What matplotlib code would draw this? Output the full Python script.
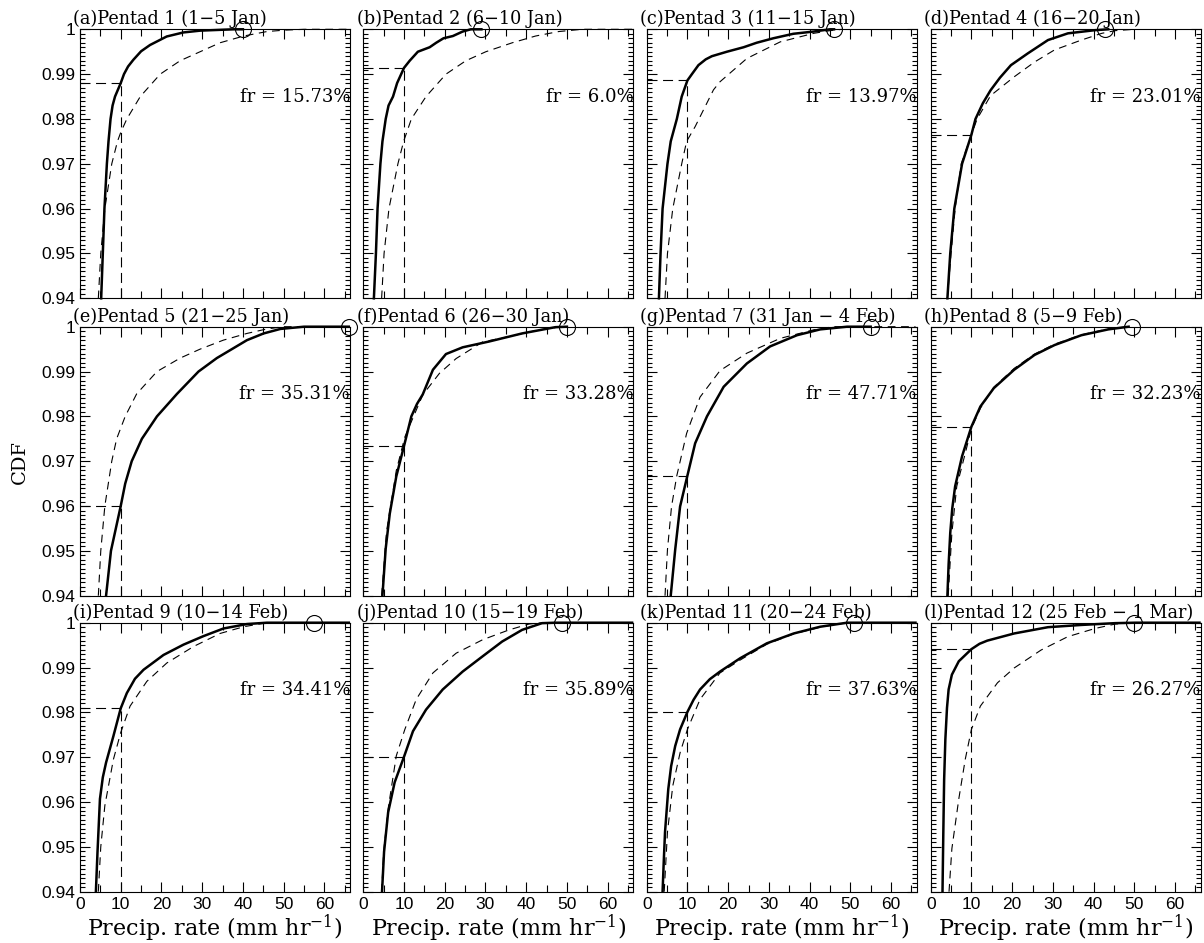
import matplotlib

matplotlib.use("Agg")
import matplotlib.pyplot as plt
from matplotlib.ticker import FixedLocator, MultipleLocator

plt.rcParams["mathtext.fontset"] = "dejavuserif"

SERIF = "DejaVu Serif"
SANS = "Liberation Sans"

titles = [
    "(a)Pentad 1 (1\u22125 Jan)",
    "(b)Pentad 2 (6\u221210 Jan)",
    "(c)Pentad 3 (11\u221215 Jan)",
    "(d)Pentad 4 (16\u221220 Jan)",
    "(e)Pentad 5 (21\u221225 Jan)",
    "(f)Pentad 6 (26\u221230 Jan)",
    "(g)Pentad 7 (31 Jan \u2212 4 Feb)",
    "(h)Pentad 8 (5\u22129 Feb)",
    "(i)Pentad 9 (10\u221214 Feb)",
    "(j)Pentad 10 (15\u221219 Feb)",
    "(k)Pentad 11 (20\u221224 Feb)",
    "(l)Pentad 12 (25 Feb \u2212 1 Mar)",
]
fr_values = ["15.73", "6.0", "13.97", "23.01", "35.31", "33.28",
             "47.71", "32.23", "34.41", "35.89", "37.63", "26.27"]

# largest observed rate per pentad (open circle)
max_rate = [40.0, 29.0, 46.0, 42.7, 66.0, 50.0, 55.0, 49.4, 57.5, 48.9, 50.8, 50.0]
# CDF of the pentad at 10 mm/hr
cdf_at_10 = [0.9880, 0.9914, 0.9886, 0.9765, 0.9600, 0.9734,
             0.9668, 0.9777, 0.9809, 0.9701, 0.9801, 0.9941]

# pentad CDF (solid)
obs_x = [
    [5.2, 5.6, 6.0, 6.6, 7.0, 7.5, 8.0, 8.6, 10.0, 10.8, 11.8, 13.1, 15.0, 17.2, 21.3, 25.4, 29.5, 37.7, 40.0],
    [2.6, 3.1, 3.5, 4.2, 4.7, 5.5, 6.2, 7.3, 8.3, 10.0, 11.4, 13.4, 16.3, 17.9, 19.7, 22.0, 24.4, 26.4, 29.0],
    [3.0, 3.4, 3.9, 5.1, 5.9, 7.4, 8.6, 10.0, 11.1, 12.7, 14.5, 16.0, 19.7, 23.8, 27.0, 31.1, 36.0, 41.0, 45.0, 46.0],
    [4.1, 4.8, 5.8, 7.7, 10.0, 11.0, 12.8, 14.7, 17.0, 19.7, 23.8, 28.8, 33.7, 40.3, 43.6],
    [6.4, 7.6, 8.8, 10.0, 11.1, 12.7, 15.2, 18.9, 23.8, 29.1, 33.6, 37.3, 41.0, 45.1, 49.2, 55.0, 66.0],
    [4.7, 5.5, 6.5, 8.1, 10.0, 11.8, 13.2, 14.6, 17.1, 20.3, 24.4, 30.9, 39.0, 47.2, 50.0],
    [5.9, 7.0, 8.2, 10.0, 11.9, 14.8, 18.9, 24.6, 30.3, 36.9, 42.6, 49.2, 55.0],
    [4.1, 4.4, 4.8, 5.3, 6.0, 7.7, 10.0, 12.2, 15.5, 20.5, 25.5, 30.4, 37.0, 43.6, 48.6],
    [3.9, 4.3, 4.9, 5.6, 6.4, 8.2, 10.0, 11.5, 13.5, 15.6, 20.5, 25.4, 30.3, 35.2, 41.0, 45.9, 66.0],
    [4.6, 5.1, 6.1, 7.7, 10.0, 12.2, 15.4, 19.5, 24.4, 29.3, 34.1, 39.0, 43.9, 47.2, 66.0],
    [3.9, 4.2, 4.5, 5.3, 6.0, 7.0, 8.2, 10.0, 11.5, 13.1, 15.5, 18.0, 23.0, 29.5, 36.1, 42.6, 49.2, 66.0],
    [2.9, 3.1, 3.3, 3.6, 4.0, 4.4, 5.2, 6.9, 10.0, 12.0, 13.9, 20.5, 28.8, 37.0, 45.3, 50.2, 66.0],
]
obs_y = [
    [0.94, 0.95, 0.96, 0.97, 0.975, 0.98, 0.983, 0.985, 0.988, 0.99, 0.9917, 0.9932, 0.9951, 0.9965, 0.9984, 0.9993, 0.9997, 1.0, 1.0],
    [0.94, 0.95, 0.96, 0.97, 0.975, 0.98, 0.983, 0.985, 0.988, 0.9914, 0.993, 0.995, 0.996, 0.997, 0.998, 0.9985, 0.9995, 1.0, 1.0],
    [0.94, 0.95, 0.96, 0.97, 0.975, 0.98, 0.985, 0.9886, 0.99, 0.992, 0.9933, 0.994, 0.995, 0.996, 0.997, 0.998, 0.999, 0.9995, 1.0, 1.0],
    [0.94, 0.95, 0.96, 0.97, 0.9765, 0.98, 0.9835, 0.9864, 0.9892, 0.992, 0.9946, 0.9976, 0.9991, 0.9998, 1.0],
    [0.94, 0.95, 0.955, 0.96, 0.965, 0.97, 0.975, 0.98, 0.985, 0.99, 0.993, 0.995, 0.997, 0.9985, 0.9995, 1.0, 1.0],
    [0.94, 0.9505, 0.9583, 0.9666, 0.9734, 0.98, 0.9828, 0.9849, 0.9904, 0.9939, 0.9954, 0.9967, 0.9985, 0.9999, 1.0],
    [0.94, 0.9503, 0.9599, 0.9668, 0.974, 0.98, 0.9866, 0.9918, 0.9956, 0.9981, 0.9994, 1.0, 1.0],
    [0.94, 0.947, 0.954, 0.9595, 0.9644, 0.9711, 0.9777, 0.9822, 0.9863, 0.9904, 0.9937, 0.9959, 0.9981, 0.9994, 1.0],
    [0.94, 0.9489, 0.9607, 0.9655, 0.9688, 0.9747, 0.9809, 0.9843, 0.9875, 0.9895, 0.9928, 0.9951, 0.997, 0.9987, 0.9997, 1.0, 1.0],
    [0.94, 0.9489, 0.9577, 0.9644, 0.9701, 0.9758, 0.9806, 0.9851, 0.9891, 0.9925, 0.9958, 0.9984, 0.9999, 1.0, 1.0],
    [0.94, 0.947, 0.9533, 0.9629, 0.968, 0.9725, 0.9762, 0.9801, 0.9828, 0.9851, 0.9874, 0.9891, 0.9921, 0.9954, 0.9976, 0.9991, 1.0, 1.0],
    [0.94, 0.9533, 0.965, 0.974, 0.981, 0.9851, 0.9884, 0.9914, 0.9941, 0.9953, 0.996, 0.9976, 0.999, 0.9995, 0.9999, 1.0, 1.0],
]

# reference CDF (dashed)
ref_x = [
    [4.5, 5.1, 6.1, 7.8, 9.2, 10.0, 11.5, 14.8, 19.7, 24.6, 29.5, 34.4, 40.2, 45.9, 50.0, 55.0, 66.0],
    [4.5, 5.1, 6.3, 8.5, 9.9, 11.8, 15.4, 20.3, 25.2, 30.1, 36.6, 42.3, 48.0, 53.7, 66.0],
    [4.5, 5.1, 6.4, 8.6, 9.8, 11.9, 16.4, 18.0, 24.6, 32.8, 41.0, 45.0, 48.0],
    [4.1, 5.0, 6.0, 7.5, 10.0, 11.4, 14.7, 20.5, 25.5, 30.4, 37.0, 42.0, 45.3, 50.0],
    [4.5, 5.1, 6.1, 7.8, 9.0, 11.1, 13.9, 18.9, 24.6, 29.5, 35.2, 41.0, 45.9, 50.0, 66.0],
    [4.5, 5.7, 8.1, 10.2, 14.6, 18.7, 22.8, 29.3, 35.8, 43.1, 48.8],
    [4.5, 5.1, 6.1, 7.4, 9.8, 13.1, 18.0, 24.6, 32.8, 41.0, 45.9, 66.0],
    [4.3, 5.2, 6.4, 8.5, 10.0, 12.2, 15.5, 20.5, 25.5, 30.4, 37.0, 43.6, 48.6],
    [4.5, 5.1, 6.1, 8.2, 10.0, 12.3, 16.4, 21.3, 27.9, 34.4, 40.2, 45.9],
    [4.5, 5.0, 6.1, 8.1, 10.2, 13.0, 17.1, 22.8, 29.3, 35.8, 40.7, 43.9],
    [4.3, 5.1, 6.4, 8.2, 10.0, 13.1, 18.0, 23.0, 29.5, 36.1, 42.6, 49.2],
    [4.5, 5.2, 6.9, 8.5, 10.0, 12.2, 16.4, 20.5, 27.1, 33.7, 40.3, 45.3, 50.2],
]
ref_y = [
    [0.94, 0.95, 0.96, 0.97, 0.975, 0.977, 0.98, 0.985, 0.99, 0.993, 0.995, 0.997, 0.9985, 0.9995, 0.9998, 1.0, 1.0],
    [0.94, 0.95, 0.96, 0.97, 0.975, 0.98, 0.985, 0.99, 0.993, 0.995, 0.997, 0.9985, 0.9995, 1.0, 1.0],
    [0.94, 0.95, 0.96, 0.97, 0.975, 0.9783, 0.9865, 0.9883, 0.9935, 0.9972, 0.9991, 0.9997, 1.0],
    [0.94, 0.95, 0.96, 0.97, 0.9765, 0.98, 0.9852, 0.9894, 0.9927, 0.9954, 0.9976, 0.9991, 0.9997, 1.0],
    [0.94, 0.95, 0.96, 0.97, 0.975, 0.98, 0.985, 0.99, 0.993, 0.995, 0.997, 0.9985, 0.9995, 1.0, 1.0],
    [0.94, 0.9543, 0.9679, 0.9754, 0.9848, 0.9896, 0.9929, 0.9966, 0.9978, 0.9993, 1.0],
    [0.94, 0.9503, 0.9599, 0.9668, 0.9762, 0.9843, 0.9902, 0.9941, 0.9974, 0.9993, 1.0, 1.0],
    [0.94, 0.954, 0.9644, 0.9718, 0.9773, 0.9818, 0.9865, 0.9907, 0.9939, 0.9961, 0.9982, 0.9995, 1.0],
    [0.94, 0.95, 0.9592, 0.9695, 0.9755, 0.9814, 0.9869, 0.991, 0.9947, 0.9976, 0.9991, 1.0],
    [0.94, 0.9489, 0.9585, 0.9703, 0.9762, 0.9829, 0.9888, 0.9932, 0.9962, 0.9984, 0.9997, 1.0],
    [0.94, 0.9533, 0.9636, 0.971, 0.9762, 0.9829, 0.9888, 0.9917, 0.9952, 0.9975, 0.999, 1.0],
    [0.94, 0.9496, 0.9607, 0.9696, 0.9762, 0.9814, 0.9866, 0.9899, 0.9939, 0.9969, 0.9987, 0.9997, 1.0],
]

x_ticks = [0, 10, 20, 30, 40, 50, 60]
y_ticks = [0.94, 0.95, 0.96, 0.97, 0.98, 0.99, 1.0]
y_tick_labels = ["0.94", "0.95", "0.96", "0.97", "0.98", "0.99", "1"]

W, H = 1204, 943
col_left = [80, 363.3, 646.7, 930.7]
row_top = [29.3, 326.7, 622.7]
ax_w, ax_h = 270, 269

fig = plt.figure(figsize=(W / 100, H / 100), dpi=100)
dash = (0, (7, 5))

for i in range(12):
    r, c = divmod(i, 4)
    ax = fig.add_axes([col_left[c] / W, 1 - (row_top[r] + ax_h) / H, ax_w / W, ax_h / H])
    ax.set_xlim(0, 66.3)
    ax.set_ylim(0.94, 1.0)

    ax.plot(ref_x[i], ref_y[i], color="black", lw=0.8, ls=dash, clip_on=False)
    ax.plot(obs_x[i], obs_y[i], color="black", lw=1.8, solid_joinstyle="round", clip_on=False)

    y10 = cdf_at_10[i]
    ax.plot([10, 10], [0.94, y10], color="black", lw=0.8, ls=(0, (9, 5)))
    ax.plot([0, 10], [y10, y10], color="black", lw=0.8, ls=(0, (9, 5)))

    ax.plot([max_rate[i]], [1.0], marker="o", ms=11.5, mfc="none", mec="black",
            mew=0.8, clip_on=False, zorder=5)

    ax.text(1.0, 0.985, f"fr = {fr_values[i]}%", transform=ax.get_yaxis_transform(),
            ha="right", va="center", family=SERIF, fontsize=13)
    ax.text(-0.025, 1.004, titles[i], transform=ax.transAxes, ha="left", va="bottom",
            family=SERIF, fontsize=12.7)

    ax.xaxis.set_major_locator(FixedLocator(x_ticks))
    ax.xaxis.set_minor_locator(MultipleLocator(5))
    ax.yaxis.set_major_locator(FixedLocator(y_ticks))
    ax.yaxis.set_minor_locator(MultipleLocator(0.001))
    ax.tick_params(which="both", direction="in", top=True, right=True, width=0.8)
    ax.tick_params(which="major", length=7)
    ax.tick_params(which="minor", length=3.5)
    ax.tick_params(axis="x", which="minor", length=5)
    for s in ax.spines.values():
        s.set_linewidth(0.8)

    if c == 0:
        ax.set_yticklabels(y_tick_labels, family=SANS, fontsize=12.5)
    else:
        ax.set_yticklabels([])
    if r == 2:
        ax.set_xticklabels([str(v) for v in x_ticks], family=SANS, fontsize=12.5)
        ax.set_xlabel("Precip. rate (mm hr$^{-1}$)", family=SERIF, fontsize=16, labelpad=1)
    else:
        ax.set_xticklabels([])

fig.text(20 / W, 1 - 462 / H, "CDF", rotation=90, ha="center", va="center",
         family=SERIF, fontsize=14)

fig.savefig("out.png", dpi=100)
